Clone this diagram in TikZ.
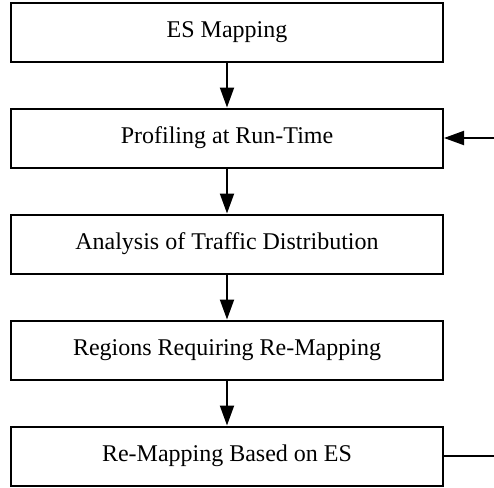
\documentclass[tikz,border=0pt]{standalone}
\usepackage{fontspec}
\setmainfont{Liberation Serif}
\usetikzlibrary{positioning}
\usetikzlibrary{arrows.meta}
\tikzset{
  stagebox/.style={draw=black,line width=1pt,minimum width=216pt,minimum height=29.5pt,
    inner sep=0pt,font=\fontsize{12}{14}\selectfont},
  flowarrow/.style={line width=1pt,-{Triangle[width=7pt,length=10pt]}}
}

\begin{document}
\begin{tikzpicture}[node distance=22.5pt]
      \useasboundingbox (0,0) rectangle (247pt,-244pt);
      \node[stagebox] (esmap) at (113.5pt,-16pt) {ES Mapping};
      \node[stagebox,below=of esmap] (profile) {Profiling at Run-Time};
      \node[stagebox,below=of profile] (traffic) {Analysis of Traffic Distribution};
      \node[stagebox,below=of traffic] (regions) {Regions Requiring Re-Mapping};
      \node[stagebox,below=of regions] (remap) {Re-Mapping Based on ES};

      \draw[flowarrow] (esmap) -- (profile);
      \draw[flowarrow] (profile) -- (traffic);
      \draw[flowarrow] (traffic) -- (regions);
      \draw[flowarrow] (regions) -- (remap);

      %% loop back, the vertical part runs past the page edge
      \draw[flowarrow] (remap.east) -- ++(30pt,0) |- (profile.east);
    \end{tikzpicture}
\end{document}
